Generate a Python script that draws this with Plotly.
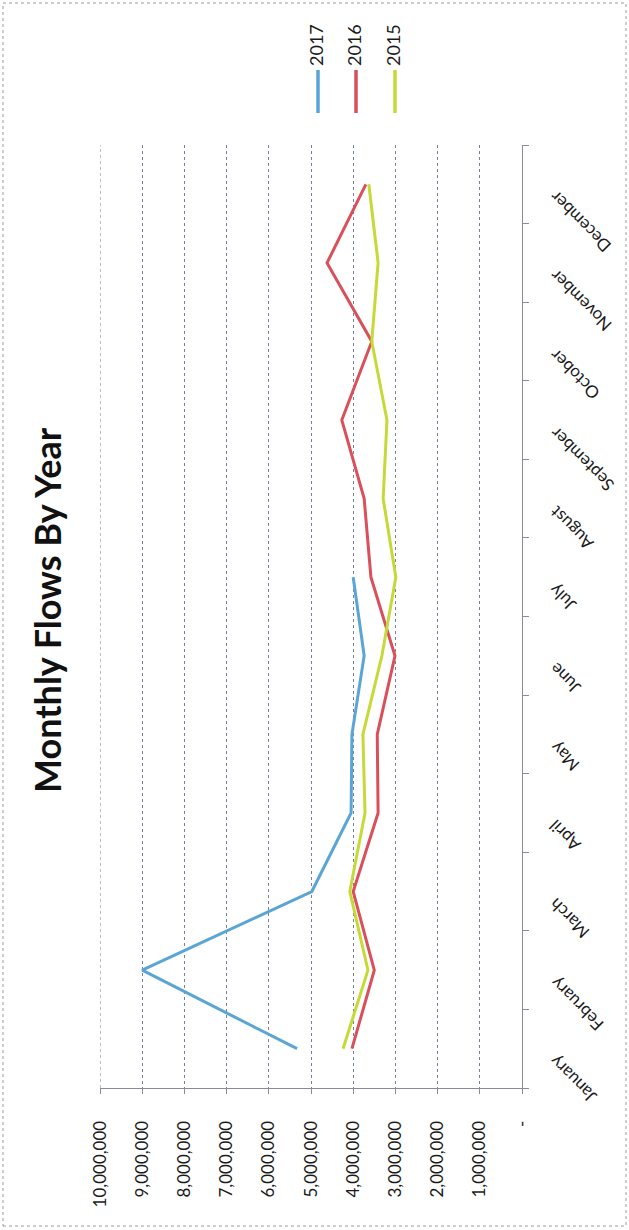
import plotly.graph_objects as go

months = ["January", "February", "March", "April", "May", "June",
          "July", "August", "September", "October", "November", "December"]
flows_2017 = [5330000, 9000000, 4980000, 4050000, 4030000, 3740000, 4000000]
flows_2016 = [4030000, 3500000, 4000000, 3410000, 3430000, 3010000,
              3580000, 3740000, 4270000, 3560000, 4620000, 3700000]
flows_2015 = [4240000, 3650000, 4080000, 3720000, 3770000, 3320000,
              2990000, 3290000, 3200000, 3560000, 3410000, 3630000]
series_names = ["2017", "2016", "2015"]
colors = ["#5aa5d6", "#d9505a", "#c5d937"]
value_ticks = [0, 1000000, 2000000, 3000000, 4000000, 5000000,
               6000000, 7000000, 8000000, 9000000, 10000000]
value_tick_text = ["-", "1,000,000", "2,000,000", "3,000,000", "4,000,000",
                   "5,000,000", "6,000,000", "7,000,000", "8,000,000",
                   "9,000,000", "10,000,000"]

W, H = 629, 1230
L, R, T, B = 100, 107, 145, 142
pw, ph = W - L - R, H - T - B
FONT = "Lato, Open Sans, sans-serif"


def px(x):
    return (x - L) / pw


def py(y):
    return (H - B - y) / ph


fig = go.Figure()
for name, vals, col in zip(series_names, [flows_2017, flows_2016, flows_2015], colors):
    fig.add_trace(go.Scatter(x=vals, y=months[:len(vals)], mode="lines", name=name,
                             line=dict(color=col, width=3), showlegend=False))

fig.update_layout(
    width=W, height=H,
    margin=dict(l=L, r=R, t=T, b=B),
    paper_bgcolor="white", plot_bgcolor="white",
    font=dict(family=FONT, color="#222"),
    xaxis=dict(range=[10000000, 0], tickvals=value_ticks, ticktext=value_tick_text,
               tickangle=-90, showgrid=True, gridcolor="#7880a0", griddash="dot",
               gridwidth=1, showline=True, linecolor="#8a8a9a", linewidth=1,
               ticks="outside", ticklen=5, tickcolor="#8a8a9a",
               ticklabelstandoff=20,
               tickfont=dict(size=17, color="#1a1a1a"), zeroline=False),
    yaxis=dict(type="category", categoryorder="array", categoryarray=months,
               range=[-0.5, 11.5], side="right", tickson="boundaries",
               showgrid=False, showline=True, linecolor="#8a8a9a", linewidth=1,
               ticks="outside", ticklen=6, tickcolor="#8a8a9a",
               showticklabels=False, zeroline=False),
)

# left border gridline at 10,000,000
fig.add_shape(type="line", xref="x", yref="paper", x0=10000000, x1=10000000,
              y0=0, y1=1, line=dict(color="#7880a0", width=1, dash="dot"))

# month labels, rotated like the reference
for m in months:
    fig.add_annotation(text=m, xref="paper", yref="y", x=px(542), y=m,
                       xanchor="left", yanchor="top", textangle=-135,
                       showarrow=False, font=dict(size=17, color="#1a1a1a"))

fig.add_annotation(text="<b>Monthly Flows By Year</b>", xref="paper", yref="paper",
                   x=px(47), y=py(610), xanchor="center", yanchor="middle",
                   textangle=-90, showarrow=False,
                   font=dict(size=36, color="#111"))

legend_x = [318, 356, 395]
for name, col, lx in zip(series_names, colors, legend_x):
    fig.add_shape(type="line", xref="paper", yref="paper", x0=px(lx), x1=px(lx),
                  y0=py(70), y1=py(113), line=dict(color=col, width=3.5))
    fig.add_annotation(text=name, xref="paper", yref="paper", x=px(lx - 2), y=py(45),
                       xanchor="center", yanchor="middle",
                       textangle=-90, showarrow=False, font=dict(size=18, color="#1a1a1a"))

fig.add_shape(type="rect", xref="paper", yref="paper", x0=px(3), x1=px(626),
              y0=py(1226), y1=py(3), line=dict(color="#9a9a9a", width=1, dash="dot"),
              layer="below")

fig.write_html("out.html")
